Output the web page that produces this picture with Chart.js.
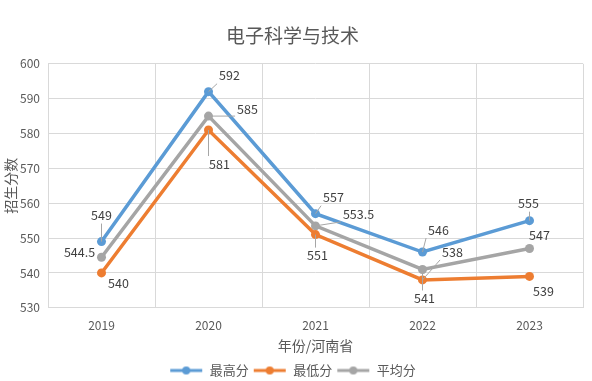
<!DOCTYPE html>
<html>
<head>
<meta charset="utf-8">
<script src="https://cdn.jsdelivr.net/npm/chart.js@4"></script>
<style>
  html, body { margin: 0; padding: 0; background: #ffffff; }
  #wrap { width: 592px; height: 381px; }
</style>
</head>
<body>
<div id="wrap"><canvas id="scoreChart" width="592" height="381"></canvas></div>
<script>
// 数据
const years = ['2019', '2020', '2021', '2022', '2023'];
const maxScores = [549, 592, 557, 546, 555];
const minScores = [540, 581, 551, 538, 539];
const avgScores = [544.5, 585, 553.5, 541, 547];
const seriesNames = ['最高分', '最低分', '平均分'];
const yMin = 530, yMax = 600, yStep = 10;

const colors = ['#5b9bd5', '#ed7d31', '#a5a5a5'];
const FONT = '"Noto Sans CJK SC", "Noto Sans", sans-serif';
const TEXT = '#595959';

// 数据标签的偏移（相对数据点）
const labelOffsets = [
    [[0, -26], [21, -16], [18, -16], [16, -22], [-1, -17]],
    [[17, 10], [11, 34], [2, 21], [30, -28], [14, 15]],
    [[-22, -5], [39, -7], [43, -12], [2, 29], [10, -13]]
];

// 图例用的“线+点”标记
function legendMarker(color) {
    const c = document.createElement('canvas');
    c.width = 34; c.height = 10;
    const g = c.getContext('2d');
    g.strokeStyle = color;
    g.lineWidth = 3;
    g.beginPath(); g.moveTo(1, 5); g.lineTo(33, 5); g.stroke();
    g.fillStyle = color;
    g.beginPath(); g.arc(17, 5, 4, 0, Math.PI * 2); g.fill();
    return c;
}
const markers = colors.map(legendMarker);

const dataLabelPlugin = {
    id: 'dataLabels',
    afterDatasetsDraw(chart) {
        const ctx = chart.ctx;
        ctx.save();
        ctx.font = '12.5px ' + FONT;
        ctx.textAlign = 'center';
        ctx.textBaseline = 'middle';
        chart.data.datasets.forEach((ds, di) => {
            chart.getDatasetMeta(di).data.forEach((pt, i) => {
                const text = String(ds.data[i]);
                const [dx, dy] = labelOffsets[di][i];
                const lx = pt.x + dx, ly = pt.y + dy;
                const w = ctx.measureText(text).width / 2 + 2, h = 8;
                // 引导线
                const cx = Math.max(lx - w, Math.min(pt.x, lx + w));
                const cy = Math.max(ly - h, Math.min(pt.y, ly + h));
                const dist = Math.hypot(cx - pt.x, cy - pt.y);
                if (dist > 8) {
                    ctx.strokeStyle = '#a6a6a6';
                    ctx.lineWidth = 1;
                    ctx.beginPath();
                    ctx.moveTo(pt.x, pt.y);
                    ctx.lineTo(cx, cy);
                    ctx.stroke();
                }
                ctx.fillStyle = '#404040';
                ctx.fillText(text, lx, ly);
            });
        });
        ctx.restore();
    }
};

function makeDataset(label, data, color) {
    return {
        label: label,
        data: data,
        borderColor: color,
        backgroundColor: color,
        borderWidth: 3.5,
        pointRadius: 4.5,
        pointHoverRadius: 4.5,
        pointBackgroundColor: color,
        pointBorderWidth: 0,
        pointStyle: 'circle',
        tension: 0
    };
}

const ctx = document.getElementById('scoreChart').getContext('2d');
const chart = new Chart(ctx, {
    type: 'line',
    data: {
        labels: years,
        datasets: [
            makeDataset(seriesNames[0], maxScores, colors[0]),
            makeDataset(seriesNames[1], minScores, colors[1]),
            makeDataset(seriesNames[2], avgScores, colors[2])
        ]
    },
    options: {
        responsive: false,
        animation: false,
        layout: { padding: { left: 2, right: 9, top: 0, bottom: -6 } },
        plugins: {
            title: {
                display: true,
                text: '电子科学与技术',
                color: TEXT,
                font: { family: FONT, size: 19, weight: 'normal' },
                padding: { top: 24, bottom: 17 }
            },
            legend: {
                position: 'bottom',
                labels: {
                    usePointStyle: true,
                    pointStyleWidth: 34,
                    color: TEXT,
                    font: { family: FONT, size: 13 },
                    padding: 4,
                    boxHeight: 10,
                    generateLabels(chart) {
                        const items = Chart.defaults.plugins.legend.labels.generateLabels(chart);
                        items.forEach((it, i) => { it.pointStyle = markers[i]; });
                        return items;
                    }
                }
            },
            tooltip: { enabled: false }
        },
        scales: {
            x: {
                offset: true,
                grid: { offset: true, color: '#d9d9d9', drawTicks: false },
                border: { color: '#d9d9d9' },
                ticks: { color: TEXT, font: { family: FONT, size: 12 }, padding: 10 },
                title: {
                    display: true,
                    text: '年份/河南省',
                    color: TEXT,
                    font: { family: FONT, size: 14 },
                    padding: { top: -5, bottom: 6 }
                }
            },
            y: {
                min: yMin,
                max: yMax,
                ticks: { stepSize: yStep, color: TEXT, font: { family: FONT, size: 12 }, padding: 8 },
                grid: { color: '#d9d9d9', drawTicks: false },
                border: { display: false },
                title: {
                    display: true,
                    text: '招生分数',
                    color: TEXT,
                    font: { family: FONT, size: 14 },
                    padding: 0
                },
                afterFit(scale) { scale.width = 46; }
            }
        }
    },
    plugins: [dataLabelPlugin]
});
</script>
</body>
</html>
